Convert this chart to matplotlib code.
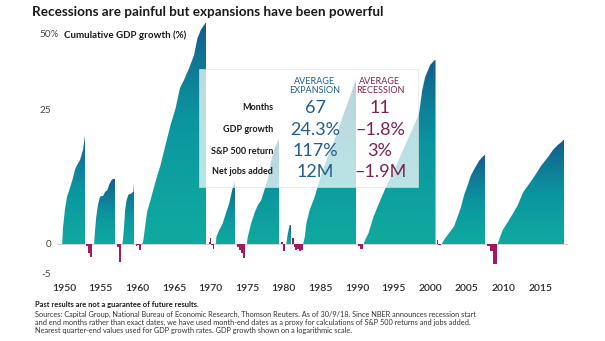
import numpy as np
import matplotlib
matplotlib.use("Agg")
import matplotlib.pyplot as plt
from matplotlib.colors import LinearSegmentedColormap
from matplotlib.patches import Rectangle, PathPatch
from matplotlib.path import Path

plt.rcParams["font.family"] = ["Lato", "DejaVu Sans"]

# ---------------- data (cumulative GDP growth, %) ----------------
# expansions: time (year) and cumulative growth
exp_years = [
    [1950.26, 1950.36, 1950.63, 1950.91, 1951.32, 1951.73, 1952.0, 1952.28, 1952.69, 1953.1, 1953.38, 1953.52],
    [1954.62, 1954.7, 1954.89, 1955.16, 1955.44, 1955.85, 1956.13, 1956.4, 1956.68, 1956.95, 1957.23, 1957.5],
    [1958.46, 1958.55, 1958.7, 1958.85, 1959.05, 1959.3, 1959.7, 1959.97, 1960.1, 1960.18],
    [1961.17, 1961.31, 1961.85, 1962.31, 1962.99, 1963.68, 1964.37, 1965.05, 1965.74, 1966.33, 1966.88,
     1967.57, 1968.26, 1968.72, 1969.18, 1969.63, 1969.86, 1970.0],
    [1971.24, 1971.3, 1971.69, 1972.16, 1972.61, 1973.06, 1973.3, 1973.53, 1973.75, 1973.85],
    [1975.45, 1975.59, 1976.04, 1976.5, 1976.96, 1977.42, 1977.87, 1978.34, 1978.79, 1979.24, 1979.57, 1979.89],
    [1980.85, 1981.0, 1981.2, 1981.35, 1981.54],
    [1983.15, 1983.37, 1983.6, 1984.05, 1984.74, 1985.66, 1986.35, 1987.03, 1987.95, 1988.86, 1989.55,
     1990.23, 1990.47],
    [1991.39, 1991.61, 1992.07, 1992.76, 1993.21, 1993.9, 1994.45, 1995.27, 1996.65, 1998.02, 1998.98,
     1999.4, 1999.81, 2000.49, 2001.22],
    [2002.05, 2002.37, 2003.06, 2003.75, 2004.2, 2004.66, 2005.16, 2005.58, 2006.03, 2006.5, 2007.18,
     2007.87, 2007.98],
    [2009.7, 2009.97, 2010.38, 2011.07, 2011.76, 2012.44, 2013.13, 2014.09, 2014.92, 2015.6, 2016.57,
     2017.25, 2017.93, 2018.42, 2018.76],
]
exp_vals = [
    [0, 2.0, 4.7, 6.7, 8.2, 10.0, 11.5, 12.4, 13.4, 15.5, 18.8, 19.5],
    [0, 1.2, 3.5, 5.6, 6.8, 6.9, 7.6, 7.8, 8.8, 9.5, 9.9, 9.9],
    [0, 0.5, 2.2, 4.7, 6.2, 7.1, 7.3, 7.6, 9.5, 9.5],
    [0, 0.3, 4.4, 6.2, 9.3, 12.4, 16.6, 21.2, 25.5, 31.2, 33.7, 37.5, 42.2, 48.6, 52.0, 54.1, 55.3, 55.3],
    [0, 0.9, 1.8, 2.7, 4.2, 5.7, 7.0, 8.2, 9.0, 9.6],
    [0, 0.9, 2.7, 4.2, 5.4, 6.2, 7.9, 9.9, 13.4, 15.8, 16.9, 18.1],
    [0, 1.0, 2.0, 2.6, 2.4],
    [0, 0.9, 2.8, 4.7, 6.8, 10.8, 13.4, 16.2, 20.0, 25.0, 28.7, 33.2, 33.9],
    [0, 0.5, 1.4, 3.7, 4.9, 6.8, 8.4, 10.5, 15.0, 20.0, 24.2, 30.6, 34.7, 38.7, 40.7],
    [0, 0.5, 1.4, 2.3, 3.6, 5.0, 7.2, 8.6, 10.4, 11.6, 13.3, 14.4, 14.6],
    [0, 0.75, 1.8, 2.9, 4.1, 5.4, 7.4, 9.1, 10.7, 12.2, 14.0, 15.5, 16.6, 17.2, 17.8],
]

# recessions: step edges (one more than values) and step values
rec_years = [
    [1953.52, 1953.8, 1954.05, 1954.3],
    [1957.77, 1957.95, 1958.32],
    [1960.34, 1960.5, 1960.75, 1961.07],
    [1970.32, 1970.45, 1970.6, 1970.8, 1971.0],
    [1974.08, 1974.4, 1974.7, 1975.0, 1975.26],
    [1980.16, 1980.35, 1980.71],
    [1981.68, 1981.85, 1982.1, 1982.35, 1982.6, 1982.85, 1983.15],
    [1990.61, 1990.85, 1991.25],
    [2001.36, 2001.6, 2001.91],
    [2008.19, 2008.3, 2008.6, 2009.0, 2009.6],
]
rec_vals = [
    [-0.4, -1.5, -2.1],
    [-0.5, -3.0],
    [-0.3, -0.1, -1.0],
    [0.3, 0.8, -0.2, -0.8],
    [-0.5, -1.0, -1.5, -2.3],
    [0.3, -1.2],
    [0.8, -0.5, -1.0, -0.8, -1.2, -1.0],
    [-0.3, -0.9],
    [0.5, -0.2],
    [0.2, -0.3, -1.2, -3.3],
]

year_ticks = [1950, 1955, 1960, 1965, 1970, 1975, 1980, 1985, 1990, 1995, 2000, 2005, 2010, 2015]
y_ticks = [50, 25, 0, -5]
y_tick_labels = ["50%", "25", "0", "-5"]

row_labels = ["Months", "GDP growth", "S&P 500 return", "Net jobs added"]
avg_expansion = ["67", "24.3%", "117%", "12M"]
avg_recession = ["11", "\u20131.8%", "3%", "\u20131.9M"]

BLUE_TXT = "#1f5f8e"
PLUM_TXT = "#7b2253"
REC_COLOR = "#a3195f"
W, H = 605, 341


# ------------- "log" style scale used by the source chart -------------
def fwd(g):
    g = np.asarray(g, dtype=float)
    return np.where(g >= 0, np.log1p(np.maximum(g, 0) / 22.0), g * 0.034)


def inv(f):
    f = np.asarray(f, dtype=float)
    return np.where(f >= 0, 22.0 * np.expm1(np.maximum(f, 0)), f / 0.034)


fig = plt.figure(figsize=(W / 100, H / 100), dpi=100)
ax = fig.add_axes([57 / W, 1 - 280 / H, 511 / W, (280 - 18.4) / H])
ax.set_yscale("function", functions=(fwd, inv))
ax.set_xlim(1949.55, 2019.3)
ax.set_ylim(-6, 57)

cmap = LinearSegmentedColormap.from_list(
    "gdp", [(0.0, "#10a99f"), (0.4, "#0b95a0"), (1.0, "#155a8c")])
grad = np.linspace(0, 1, 256).reshape(-1, 1)

ax.axhline(0, color="#d4d4d4", lw=0.8, zorder=0)

for t, v in zip(exp_years, exp_vals):
    verts = [(t[0], 0)] + list(zip(t, v)) + [(t[-1], 0), (t[0], 0)]
    clip = PathPatch(Path(verts, closed=True), facecolor="none", edgecolor="none",
                     transform=ax.transData)
    ax.add_patch(clip)
    im = ax.imshow(grad, cmap=cmap, origin="lower", aspect="auto",
                   extent=[t[0], t[-1], 0, max(v)], interpolation="bilinear", zorder=2)
    im.set_clip_path(clip)

for t, v in zip(rec_years, rec_vals):
    ax.fill_between(t, list(v) + [v[-1]], 0, step="post", color=REC_COLOR, lw=0, zorder=2)

ax.set_xlim(1949.55, 2019.3)
ax.set_ylim(-6, 57)

for s in ax.spines.values():
    s.set_visible(False)
ax.set_xticks([y + 0.5 for y in year_ticks])
ax.set_xticklabels([str(y) for y in year_ticks], fontsize=7.5, color="#2a2a2a", fontweight="semibold")
ax.tick_params(axis="x", length=0, pad=3)
ax.set_yticks([])
ax.yaxis.set_minor_locator(plt.NullLocator())

ytr = ax.get_yaxis_transform()
for val, lab in zip(y_ticks, y_tick_labels):
    if lab.endswith("%"):
        ax.text(-6 / 511, val, lab[:-1], transform=ytr, ha="right", va="center",
                fontsize=7.2, color="#444444")
        ax.text(-6.5 / 511, val, "%", transform=ytr, ha="left", va="center",
                fontsize=6.5, color="#444444")
    else:
        ax.text(-6 / 511, val, lab, transform=ytr, ha="right", va="center",
                fontsize=7.2, color="#444444")
ax.text(6.5 / 511, 50, "Cumulative GDP growth (%)", transform=ytr, ha="left", va="center",
        fontsize=7, fontweight="bold", color="#1a1a1a")

# ---------------- summary table ----------------
fig.add_artist(Rectangle((199 / W, 1 - 187 / H), 219 / W, 118 / H, transform=fig.transFigure,
                         facecolor="white", alpha=0.72, edgecolor="#e0e0e0", lw=0.6, zorder=3))

fig.text(315 / W, 1 - 86 / H, "AVERAGE\nEXPANSION", ha="center", va="center", fontsize=6.5,
         color=BLUE_TXT, linespacing=1.0, zorder=4)
fig.text(380 / W, 1 - 86 / H, "AVERAGE\nRECESSION", ha="center", va="center", fontsize=6.5,
         color=PLUM_TXT, linespacing=1.0, zorder=4)
row_y = [108, 130, 151, 172]
for ry, lab, e, r in zip(row_y, row_labels, avg_expansion, avg_recession):
    fig.text(273 / W, 1 - ry / H, lab, ha="right", va="center", fontsize=6.5,
             fontweight="bold", color="#1a1a1a", zorder=4)
    fig.text(315 / W, 1 - ry / H, e, ha="center", va="center", fontsize=13,
             fontweight="normal", color=BLUE_TXT, zorder=4)
    fig.text(380 / W, 1 - ry / H, r, ha="center", va="center", fontsize=13,
             fontweight="normal", color=PLUM_TXT, zorder=4)

# ---------------- title and footnotes ----------------
fig.text(32 / W, 1 - 11.5 / H, "Recessions are painful but expansions have been powerful",
         ha="left", va="center", fontsize=9.7, fontweight="bold", color="#1a1a1a")

fig.text(35 / W, 1 - 305 / H, "Past results are not a guarantee of future results.",
         ha="left", va="center", fontsize=5.4, fontweight="bold", color="#1a1a1a")
notes = [
    "Sources: Capital Group, National Bureau of Economic Research, Thomson Reuters. As of 30/9/18. "
    "Since NBER announces recession start",
    "and end months rather than exact dates, we have used month-end dates as a proxy for calculations "
    "of S&P 500 returns and jobs added.",
    "Nearest quarter-end values used for GDP growth rates. GDP growth shown on a logarithmic scale.",
]
for ny, line in zip([314, 322.5, 331], notes):
    fig.text(35 / W, 1 - ny / H, line, ha="left", va="center", fontsize=5.35, color="#333333")

fig.savefig("out.png", dpi=100)
